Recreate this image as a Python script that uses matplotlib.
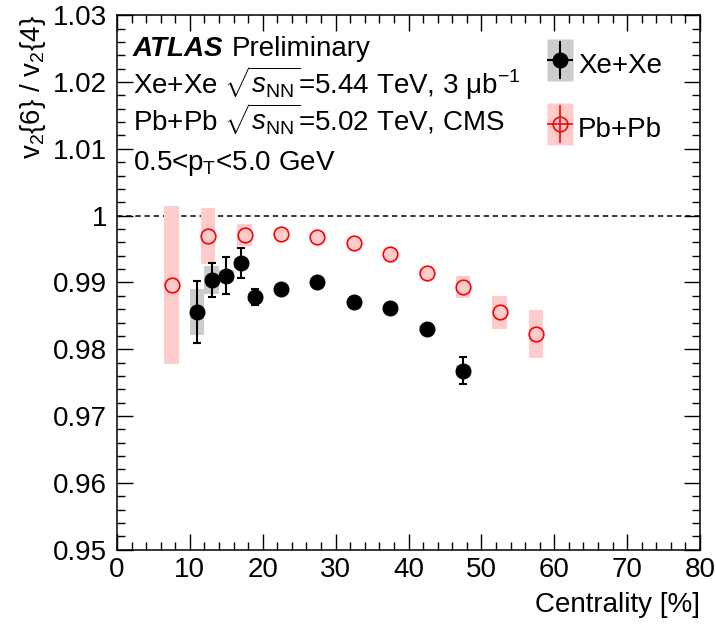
import matplotlib
matplotlib.use('Agg')
import matplotlib.pyplot as plt
from matplotlib.lines import Line2D
from matplotlib.path import Path
from matplotlib.legend_handler import HandlerTuple
from matplotlib.ticker import MultipleLocator, FuncFormatter

plt.rcParams['font.family'] = ['Liberation Sans', 'DejaVu Sans']
plt.rcParams['mathtext.fontset'] = 'custom'
plt.rcParams['mathtext.rm'] = 'Liberation Sans'
plt.rcParams['mathtext.it'] = 'Liberation Sans:italic'
plt.rcParams['mathtext.bf'] = 'Liberation Sans:bold'

# ---- data ----
xe_cent = [11, 13, 15, 17, 19, 22.5, 27.5, 32.5, 37.5, 42.5, 47.5]
xe_ratio = [0.98558, 0.99037, 0.99102, 0.99292, 0.98777, 0.98897, 0.99007,
            0.98702, 0.98612, 0.98310, 0.97680]
xe_stat = [0.0046, 0.0026, 0.0028, 0.0023, 0.0012, 0.0004, 0.0004, 0.0004,
           0.0004, 0.0004, 0.0020]
xe_sys = [0.0035, 0.0021, 0.0008, 0.0008, 0.0006, 0.0005, 0.0005, 0.0005,
          0.0005, 0.0005, 0.0008]

pb_cent = [7.5, 12.5, 17.5, 22.5, 27.5, 32.5, 37.5, 42.5, 47.5, 52.5, 57.5]
pb_ratio = [0.98963, 0.99690, 0.99711, 0.99721, 0.99675, 0.99585, 0.99426,
            0.99147, 0.98937, 0.98553, 0.98229]
pb_stat = [0.0003, 0.0003, 0.0003, 0.0003, 0.0003, 0.0003, 0.0003, 0.0003,
           0.0003, 0.0003, 0.0003]
pb_sys = [0.01188, 0.0042, 0.00168, 0.0006, 0.0006, 0.0005, 0.0005, 0.0005,
          0.00163, 0.00249, 0.00365]

legend_labels = ['Xe+Xe', 'Pb+Pb']

# ---- styles ----
FS = 20
GREY = '#cccccc'
PINK = '#ffcccc'
RED = '#ff0000'
BOXW = 2.0

fig = plt.figure(figsize=(7.16, 6.24), dpi=100)
ax = fig.add_axes([0.1634, 0.1192, 0.8143, 0.8564])

ax.set_xlim(0, 80)
ax.set_ylim(0.95, 1.03)

# reference line
ax.axhline(1.0, color='k', lw=1.1, ls=(0, (3.5, 2.5)), zorder=1)

# systematic boxes
ax.bar(pb_cent, [2 * s for s in pb_sys], bottom=[y - s for y, s in zip(pb_ratio, pb_sys)],
       width=BOXW, color=PINK, linewidth=0, zorder=2)
ax.bar(xe_cent, [2 * s for s in xe_sys], bottom=[y - s for y, s in zip(xe_ratio, xe_sys)],
       width=BOXW, color=GREY, linewidth=0, zorder=2)

# points
ax.errorbar(pb_cent, pb_ratio, yerr=pb_stat, fmt='o', ms=10.5, mfc=PINK, mec=RED,
            mew=1.2, ecolor=RED, elinewidth=1.1, capsize=0, zorder=3)
ax.errorbar(xe_cent, xe_ratio, yerr=xe_stat, fmt='o', ms=10.5, color='k',
            elinewidth=1.5, capsize=3, capthick=1.5, zorder=4)

# axes styling
ax.xaxis.set_major_locator(MultipleLocator(10))
ax.xaxis.set_minor_locator(MultipleLocator(2))
ax.yaxis.set_major_locator(MultipleLocator(0.01))
ax.yaxis.set_minor_locator(MultipleLocator(0.002))
ax.yaxis.set_major_formatter(FuncFormatter(lambda v, p: f'{round(v, 4):g}'))
ax.tick_params(which='both', direction='in', top=True, right=True, width=1.0,
               labelsize=FS)
ax.tick_params(which='major', length=11.5)
ax.tick_params(which='minor', length=5.5)
ax.tick_params(axis='x', pad=5)
ax.tick_params(axis='y', pad=7)
for sp in ax.spines.values():
    sp.set_linewidth(1.1)

ax.set_xlabel('Centrality [%]', loc='right', fontsize=FS, labelpad=7)
ax.set_ylabel(r'v$_{2}${6} / v$_{2}${4}', loc='top', fontsize=FS, labelpad=4)

# text block
tx = 0.0274
ax.text(tx, 0.9237, 'ATLAS', fontsize=FS, fontweight='bold', style='italic',
        transform=ax.transAxes, va='baseline')
ax.text(0.196, 0.9237, 'Preliminary', fontsize=FS, transform=ax.transAxes, va='baseline')
ax.text(tx, 0.8525, r'Xe+Xe $\sqrt{s_{\mathrm{NN}}}$=5.44 TeV, 3 μb$^{-1}$', fontsize=FS,
        transform=ax.transAxes, va='baseline')
ax.text(tx, 0.7852, r'Pb+Pb $\sqrt{s_{\mathrm{NN}}}$=5.02 TeV, CMS', fontsize=FS,
        transform=ax.transAxes, va='baseline')
ax.text(tx, 0.7103, r'0.5<p$_{\mathrm{T}}$<5.0 GeV', fontsize=FS,
        transform=ax.transAxes, va='baseline')

# legend (rectangular box marker + cross + point)
rect = Path([(-13, -21), (13, -21), (13, 21), (-13, 21), (-13, -21)], closed=True)
h_xe = (Line2D([], [], ls='', marker=rect, ms=30, mfc=GREY, mec='none'),
        Line2D([], [], ls='', marker='|', ms=27, mew=1.5, color='k'),
        Line2D([], [], ls='', marker='_', ms=19, mew=1.5, color='k'),
        Line2D([], [], ls='', marker='o', ms=10.5, color='k'))
h_pb = (Line2D([], [], ls='', marker=rect, ms=30, mfc=PINK, mec='none'),
        Line2D([], [], ls='', marker='|', ms=27, mew=1.2, color=RED),
        Line2D([], [], ls='', marker='_', ms=19, mew=1.2, color=RED),
        Line2D([], [], ls='', marker='o', ms=10.5, mfc='none', mec=RED, mew=1.2))
ax.legend([h_xe, h_pb], legend_labels, handler_map={tuple: HandlerTuple(ndivide=1)},
          loc='upper left', bbox_to_anchor=(0.7376, 0.940), frameon=False,
          fontsize=FS, handlelength=0.93, handleheight=1.5, handletextpad=0.18,
          labelspacing=1.06, borderpad=0, borderaxespad=0, numpoints=1)

fig.savefig('out.png', dpi=100)
